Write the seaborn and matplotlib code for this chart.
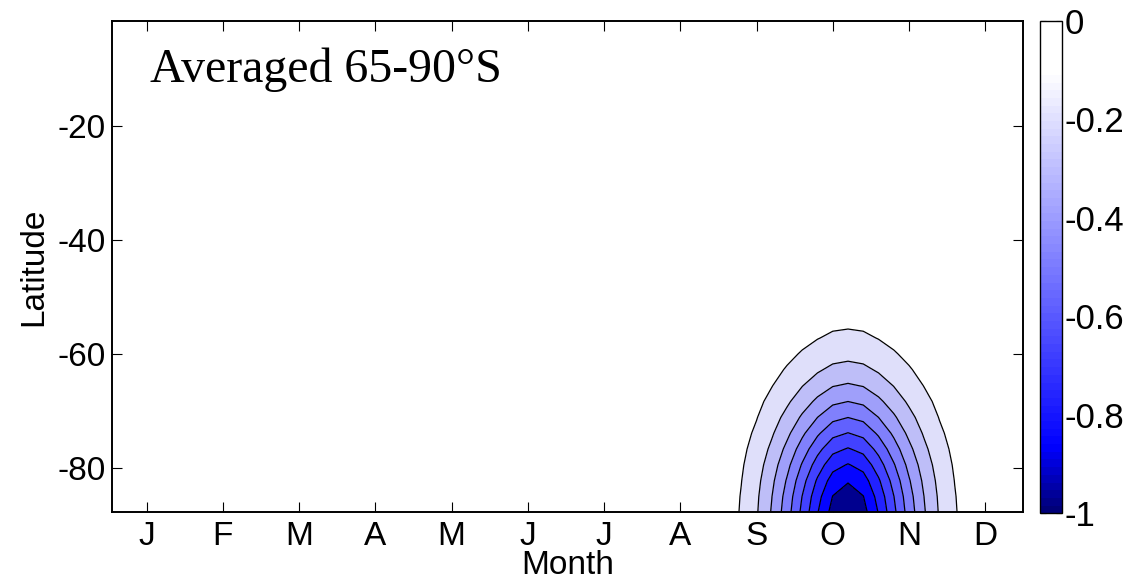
import numpy as np
import matplotlib
matplotlib.use("Agg")
import matplotlib.pyplot as plt
from matplotlib.colors import LinearSegmentedColormap, Normalize
from matplotlib.cm import ScalarMappable
import seaborn as sns

# month axis: 1 = Jan ... 12 = Dec, columns where the field was read
months = [8.6, 8.8, 9.0, 9.2, 9.4, 9.6, 9.8, 10.0, 10.2,
          10.4, 10.6, 10.8, 11.0, 11.2, 11.4, 11.6, 11.8]
month_labels = ['J', 'F', 'M', 'A', 'M', 'J', 'J', 'A', 'S', 'O', 'N', 'D']
month_ticks = [1, 2, 3, 4, 5, 6, 7, 8, 9, 10, 11, 12]

# southern latitudes (gaussian grid rows)
lats = [-87.86, -85.10, -82.31, -79.53, -76.74, -73.95, -71.16, -68.37,
        -65.58, -62.79, -60.00, -57.21, -54.42, -51.63, -48.84]

# field values (rows = lats, cols = months); zero elsewhere
field = [
    [-0.050, -0.109, -0.190, -0.309, -0.456, -0.626, -0.795, -0.938, -0.991, -0.938, -0.795, -0.626, -0.456, -0.309, -0.190, -0.109, -0.050],
    [-0.048, -0.105, -0.183, -0.298, -0.439, -0.603, -0.765, -0.903, -0.954, -0.903, -0.765, -0.603, -0.439, -0.298, -0.183, -0.105, -0.048],
    [-0.045, -0.098, -0.171, -0.278, -0.410, -0.563, -0.715, -0.844, -0.891, -0.844, -0.715, -0.563, -0.410, -0.278, -0.171, -0.098, -0.045],
    [-0.040, -0.089, -0.155, -0.252, -0.371, -0.510, -0.647, -0.764, -0.807, -0.764, -0.647, -0.510, -0.371, -0.252, -0.155, -0.089, -0.040],
    [-0.035, -0.078, -0.136, -0.221, -0.326, -0.447, -0.568, -0.670, -0.708, -0.670, -0.568, -0.447, -0.326, -0.221, -0.136, -0.078, -0.035],
    [-0.030, -0.066, -0.116, -0.188, -0.277, -0.381, -0.484, -0.571, -0.603, -0.571, -0.484, -0.381, -0.277, -0.188, -0.116, -0.066, -0.030],
    [-0.025, -0.055, -0.096, -0.156, -0.230, -0.315, -0.400, -0.473, -0.499, -0.473, -0.400, -0.315, -0.230, -0.156, -0.096, -0.055, -0.025],
    [-0.020, -0.044, -0.077, -0.125, -0.184, -0.253, -0.321, -0.379, -0.400, -0.379, -0.321, -0.253, -0.184, -0.125, -0.077, -0.044, -0.020],
    [-0.016, -0.034, -0.060, -0.097, -0.143, -0.197, -0.249, -0.295, -0.311, -0.295, -0.249, -0.197, -0.143, -0.097, -0.060, -0.034, -0.016],
    [-0.012, -0.026, -0.045, -0.073, -0.108, -0.148, -0.188, -0.222, -0.234, -0.222, -0.188, -0.148, -0.108, -0.073, -0.045, -0.026, -0.012],
    [-0.009, -0.019, -0.033, -0.053, -0.079, -0.108, -0.137, -0.162, -0.171, -0.162, -0.137, -0.108, -0.079, -0.053, -0.033, -0.019, -0.009],
    [-0.006, -0.013, -0.023, -0.038, -0.056, -0.076, -0.097, -0.115, -0.121, -0.115, -0.097, -0.076, -0.056, -0.038, -0.023, -0.013, -0.006],
    [-0.004, -0.009, -0.016, -0.026, -0.039, -0.053, -0.067, -0.080, -0.084, -0.080, -0.067, -0.053, -0.039, -0.026, -0.016, -0.009, -0.004],
    [-0.003, -0.006, -0.011, -0.017, -0.026, -0.035, -0.045, -0.053, -0.056, -0.053, -0.045, -0.035, -0.026, -0.017, -0.011, -0.006, -0.003],
    [-0.002, -0.004, -0.007, -0.011, -0.017, -0.023, -0.029, -0.034, -0.036, -0.034, -0.029, -0.023, -0.017, -0.011, -0.007, -0.004, -0.002],
]

levels = [-1.0, -0.9, -0.8, -0.7, -0.6, -0.5, -0.4, -0.3, -0.2, -0.1, 0.0]
cbar_ticks = [0, -0.2, -0.4, -0.6, -0.8, -1]
cbar_labels = ['0', '-0.2', '-0.4', '-0.6', '-0.8', '-1']

# one colour per band, from -1 up to 0
band_colors = ['#00008F', '#0505FF', '#2222FF', '#4242FF', '#6161FE',
               '#8080FC', '#9F9FFA', '#BEBEF8', '#DFDFFA', '#FFFFFF']

sns.set_style("ticks")
plt.rcParams['font.family'] = ['Liberation Sans', 'DejaVu Sans']
plt.rcParams['axes.unicode_minus'] = False
plt.rcParams['axes.edgecolor'] = 'black'
plt.rcParams['xtick.color'] = 'black'
plt.rcParams['ytick.color'] = 'black'
plt.rcParams['text.color'] = 'black'
plt.rcParams['axes.labelcolor'] = 'black'
plt.rcParams['contour.negative_linestyle'] = 'solid'

fig = plt.figure(figsize=(11.3, 5.85), dpi=100)
ax = fig.add_axes([0.0988, 0.1243, 0.8068, 0.8403])
cax = fig.add_axes([0.9204, 0.1226, 0.0192, 0.8415])

ax.contourf(months, lats, field, levels=levels, colors=band_colors)
ax.contour(months, lats, field, levels=levels[1:-1], colors='black',
           linewidths=0.9, linestyles='solid')

ax.set_xlim(0.54, 12.5)
ax.set_ylim(-87.86, -1.395)
ax.set_xticks(month_ticks)
ax.set_xticklabels(month_labels)
ax.set_yticks([-80, -60, -40, -20])
ax.tick_params(direction='in', top=True, right=True, length=7, width=0.8,
               labelsize=24, pad=4)
ax.tick_params(axis='x', pad=6)
for sp in ax.spines.values():
    sp.set_linewidth(1.4)
ax.set_xlabel('Month', fontsize=24, labelpad=-1)
ax.set_ylabel('Latitude', fontsize=24, labelpad=6)

ax.text(0.042, 0.875, 'Averaged 65-90\u00b0S', transform=ax.transAxes,
        fontsize=34.5, va='baseline', family=['Liberation Serif', 'DejaVu Serif'])

# continuous colour scale for the bar
cb_cmap = LinearSegmentedColormap.from_list(
    'whiteblue', [(0.0, '#000078'), (0.07, '#0000C0'), (0.13, '#0000FF'),
                  (0.9, '#FFFFFF'), (1.0, '#FFFFFF')], N=64)
sm = ScalarMappable(norm=Normalize(-1, 0), cmap=cb_cmap)
cb = fig.colorbar(sm, cax=cax, ticks=cbar_ticks)
cb.ax.set_yticklabels(cbar_labels)
cb.ax.tick_params(direction='in', left=True, right=True, length=4, width=0.8,
                  labelsize=25, pad=2)
cb.outline.set_linewidth(1.0)

fig.savefig('out.png', dpi=100)
